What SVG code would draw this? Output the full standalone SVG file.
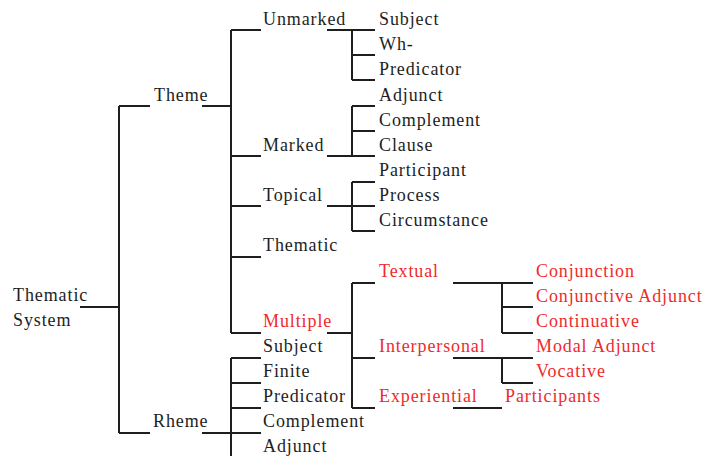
<svg xmlns="http://www.w3.org/2000/svg" width="704" height="456" viewBox="0 0 704 456">
<style>
text{font-family:"Liberation Serif","Times New Roman",serif;font-size:18px;letter-spacing:0.9px;fill:#1e1e1e}
.r{fill:#f02a2a}
#connectors path{fill:none;stroke:#1e1e1e;stroke-width:2;stroke-linecap:butt}
</style>
<rect width="704" height="456" fill="#ffffff"/>
<g id="connectors">
<path d="M80 307H119M119 106V433M119 106H150M119 433H150"/>
<path d="M202 106H231M231 30V333M231 30H261M231 156H261M231 206H261M231 257H261M231 333H261"/>
<path d="M327 30H352M352 30V80M352 30H375M352 55H375M352 80H375"/>
<path d="M327 156H352M352 106V156M352 106H375M352 131H375M352 156H375"/>
<path d="M327 206H352M352 182V231M352 182H375M352 206H375M352 231H375"/>
<path d="M327 333H352M352 283V408M352 283H375M352 358H375M352 408H375"/>
<path d="M453 283H533M502 283V333M502 307H533M502 333H533"/>
<path d="M453 358H533M502 358V383M502 383H533"/>
<path d="M453 408H502"/>
<path d="M202 433H231M231 358V456M231 358H261M231 383H261M231 408H261M231 433H261"/>
</g>
<g id="thematic-system"><text x="13" y="301">Thematic</text><text x="13" y="326">System</text></g>
<g id="theme"><text x="154" y="101">Theme</text></g>
<g id="rheme"><text x="153" y="427">Rheme</text></g>
<g id="unmarked"><text x="263" y="25">Unmarked</text></g>
<g id="marked"><text x="263" y="151">Marked</text></g>
<g id="topical"><text x="263" y="201">Topical</text></g>
<g id="thematic"><text x="263" y="251">Thematic</text></g>
<g id="multiple"><text class="r" x="263" y="327">Multiple</text></g>
<g id="rh-subject"><text x="263" y="352">Subject</text></g>
<g id="rh-finite"><text x="263" y="377">Finite</text></g>
<g id="rh-predicator"><text x="263" y="402">Predicator</text></g>
<g id="rh-complement"><text x="263" y="427">Complement</text></g>
<g id="rh-adjunct"><text x="263" y="452">Adjunct</text></g>
<g id="subject"><text x="379" y="25">Subject</text></g>
<g id="wh"><text x="379" y="50">Wh-</text></g>
<g id="predicator"><text x="379" y="75">Predicator</text></g>
<g id="adjunct"><text x="379" y="101">Adjunct</text></g>
<g id="complement"><text x="379" y="126">Complement</text></g>
<g id="clause"><text x="379" y="151">Clause</text></g>
<g id="participant"><text x="379" y="176">Participant</text></g>
<g id="process"><text x="379" y="201">Process</text></g>
<g id="circumstance"><text x="379" y="226">Circumstance</text></g>
<g id="textual"><text class="r" x="379" y="277">Textual</text></g>
<g id="interpersonal"><text class="r" x="379" y="352">Interpersonal</text></g>
<g id="experiential"><text class="r" x="379" y="402">Experiential</text></g>
<g id="conjunction"><text class="r" x="536" y="277">Conjunction</text></g>
<g id="conjunctive-adjunct"><text class="r" x="536" y="302">Conjunctive Adjunct</text></g>
<g id="continuative"><text class="r" x="536" y="327">Continuative</text></g>
<g id="modal-adjunct"><text class="r" x="536" y="352">Modal Adjunct</text></g>
<g id="vocative"><text class="r" x="536" y="377">Vocative</text></g>
<g id="participants"><text class="r" x="505" y="402">Participants</text></g>
</svg>
